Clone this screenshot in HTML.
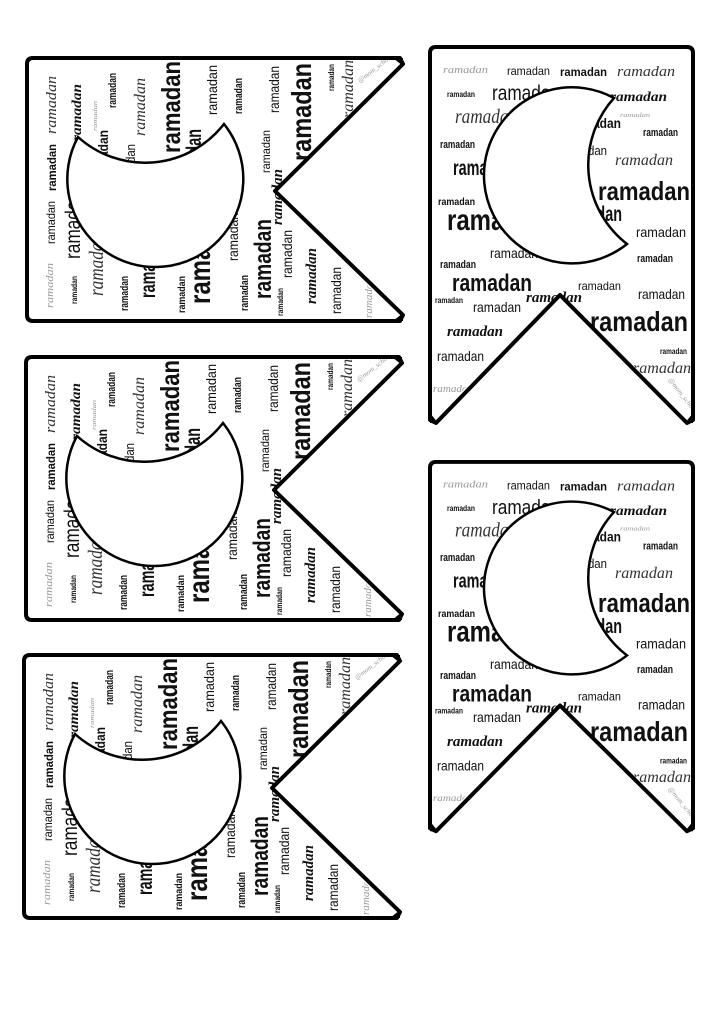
<!DOCTYPE html>
<html><head><meta charset="utf-8"><style>
html,body{margin:0;padding:0;background:#fff;width:724px;height:1024px;overflow:hidden}
svg{display:block}
.s{font-family:"Liberation Sans",sans-serif;fill:#111}
.b{font-family:"Liberation Sans",sans-serif;font-weight:bold;fill:#111}
.c{font-family:"Liberation Sans",sans-serif;font-weight:bold;fill:#111}
.cu{font-family:"Liberation Serif",serif;font-style:italic;fill:#333}
.g{fill:#999}
.bi{font-family:"Liberation Serif",serif;font-weight:bold;font-style:italic;fill:#111}
</style></head><body>
<svg width="724" height="1024" viewBox="0 0 724 1024" xmlns="http://www.w3.org/2000/svg">
<defs>
<clipPath id="cp"><path d="M2,378 L2,2 L265,2 L265,378 L132,250 Z"/></clipPath>
<g id="ban">
<g clip-path="url(#cp)" lengthAdjust="spacingAndGlyphs">
<text class="cu g" x="15" y="28" font-size="11" textLength="45" lengthAdjust="spacingAndGlyphs">ramadan</text>
<text class="s" x="79" y="30" font-size="12" textLength="43" lengthAdjust="spacingAndGlyphs">ramadan</text>
<text class="b" x="132" y="31" font-size="12" textLength="47" lengthAdjust="spacingAndGlyphs">ramadan</text>
<text class="cu" x="189" y="31" font-size="15" textLength="58" lengthAdjust="spacingAndGlyphs">ramadan</text>
<text class="c" x="19" y="52" font-size="8" textLength="28" lengthAdjust="spacingAndGlyphs">ramadan</text>
<text class="s" x="64" y="55" font-size="21" textLength="68" lengthAdjust="spacingAndGlyphs">ramadan</text>
<text class="bi" x="182" y="56" font-size="14" textLength="57" lengthAdjust="spacingAndGlyphs">ramadan</text>
<text class="cu" x="27" y="78" font-size="20" textLength="62" lengthAdjust="spacingAndGlyphs">ramadan</text>
<text class="cu g" x="192" y="72" font-size="6" textLength="30" lengthAdjust="spacingAndGlyphs">ramadan</text>
<text class="c" x="143" y="83" font-size="14" textLength="50" lengthAdjust="spacingAndGlyphs">ramadan</text>
<text class="c" x="215" y="91" font-size="11" textLength="35" lengthAdjust="spacingAndGlyphs">ramadan</text>
<text class="c" x="12" y="103" font-size="11" textLength="35" lengthAdjust="spacingAndGlyphs">ramadan</text>
<text class="s" x="134" y="110" font-size="13" textLength="45" lengthAdjust="spacingAndGlyphs">ramadan</text>
<text class="cu" x="187" y="120" font-size="16" textLength="58" lengthAdjust="spacingAndGlyphs">ramadan</text>
<text class="c" x="25" y="130" font-size="21" textLength="60" lengthAdjust="spacingAndGlyphs">ramadan</text>
<text class="b" x="170" y="155" font-size="26" textLength="92" lengthAdjust="spacingAndGlyphs">ramadan</text>
<text class="c" x="10" y="160" font-size="10" textLength="37" lengthAdjust="spacingAndGlyphs">ramadan</text>
<text class="b" x="19" y="185" font-size="30" textLength="100" lengthAdjust="spacingAndGlyphs">ramadan</text>
<text class="c" x="134" y="176" font-size="21" textLength="60" lengthAdjust="spacingAndGlyphs">ramadan</text>
<text class="s" x="208" y="192" font-size="14" textLength="50" lengthAdjust="spacingAndGlyphs">ramadan</text>
<text class="s" x="62" y="213" font-size="14" textLength="48" lengthAdjust="spacingAndGlyphs">ramadan</text>
<text class="c" x="209" y="217" font-size="11" textLength="36" lengthAdjust="spacingAndGlyphs">ramadan</text>
<text class="c" x="12" y="223" font-size="11" textLength="36" lengthAdjust="spacingAndGlyphs">ramadan</text>
<text class="b" x="24" y="246" font-size="24" textLength="80" lengthAdjust="spacingAndGlyphs">ramadan</text>
<text class="s" x="150" y="245" font-size="12" textLength="43" lengthAdjust="spacingAndGlyphs">ramadan</text>
<text class="s" x="210" y="254" font-size="14" textLength="47" lengthAdjust="spacingAndGlyphs">ramadan</text>
<text class="c" x="7" y="258" font-size="8" textLength="28" lengthAdjust="spacingAndGlyphs">ramadan</text>
<text class="bi" x="98" y="257" font-size="15" textLength="56" lengthAdjust="spacingAndGlyphs">ramadan</text>
<text class="s" x="45" y="267" font-size="14" textLength="48" lengthAdjust="spacingAndGlyphs">ramadan</text>
<text class="b" x="162" y="286" font-size="28" textLength="98" lengthAdjust="spacingAndGlyphs">ramadan</text>
<text class="bi" x="19" y="291" font-size="15" textLength="56" lengthAdjust="spacingAndGlyphs">ramadan</text>
<text class="c" x="232" y="309" font-size="8" textLength="27" lengthAdjust="spacingAndGlyphs">ramadan</text>
<text class="s" x="9" y="316" font-size="14" textLength="47" lengthAdjust="spacingAndGlyphs">ramadan</text>
<text class="cu" x="205" y="328" font-size="16" textLength="58" lengthAdjust="spacingAndGlyphs">ramadan</text>
<text class="cu g" x="5" y="347" font-size="10" textLength="40" lengthAdjust="spacingAndGlyphs">ramadan</text>
<text class="cu g" x="0" y="0" font-size="7" transform="translate(240,335) rotate(52)">@mom_schooling</text>
</g>
<path d="M186,53 A88,88 0 1 0 199,199 A100,100 0 0 1 186,53 Z" fill="#fff" stroke="#000" stroke-width="2.5"/>
<path d="M2,375 L2,8 Q2,2 8,2 L259,2 Q265,2 265,8 L265,375 L259,378 L132,250 L8,378 Z" fill="none" stroke="#000" stroke-width="4" stroke-linejoin="round"/>
<path d="M2,368 L2,378 L10,378 Z M265,368 L265,378 L257,378 Z" fill="#000"/>
</g>
</defs>
<use href="#ban" transform="translate(428,45)"/>
<use href="#ban" transform="translate(428,460) scale(1,0.982)"/>
<use href="#ban" transform="translate(25,323) rotate(-90)"/>
<use href="#ban" transform="translate(24,622) rotate(-90)"/>
<use href="#ban" transform="translate(22,920) rotate(-90)"/>
</svg>
</body></html>
